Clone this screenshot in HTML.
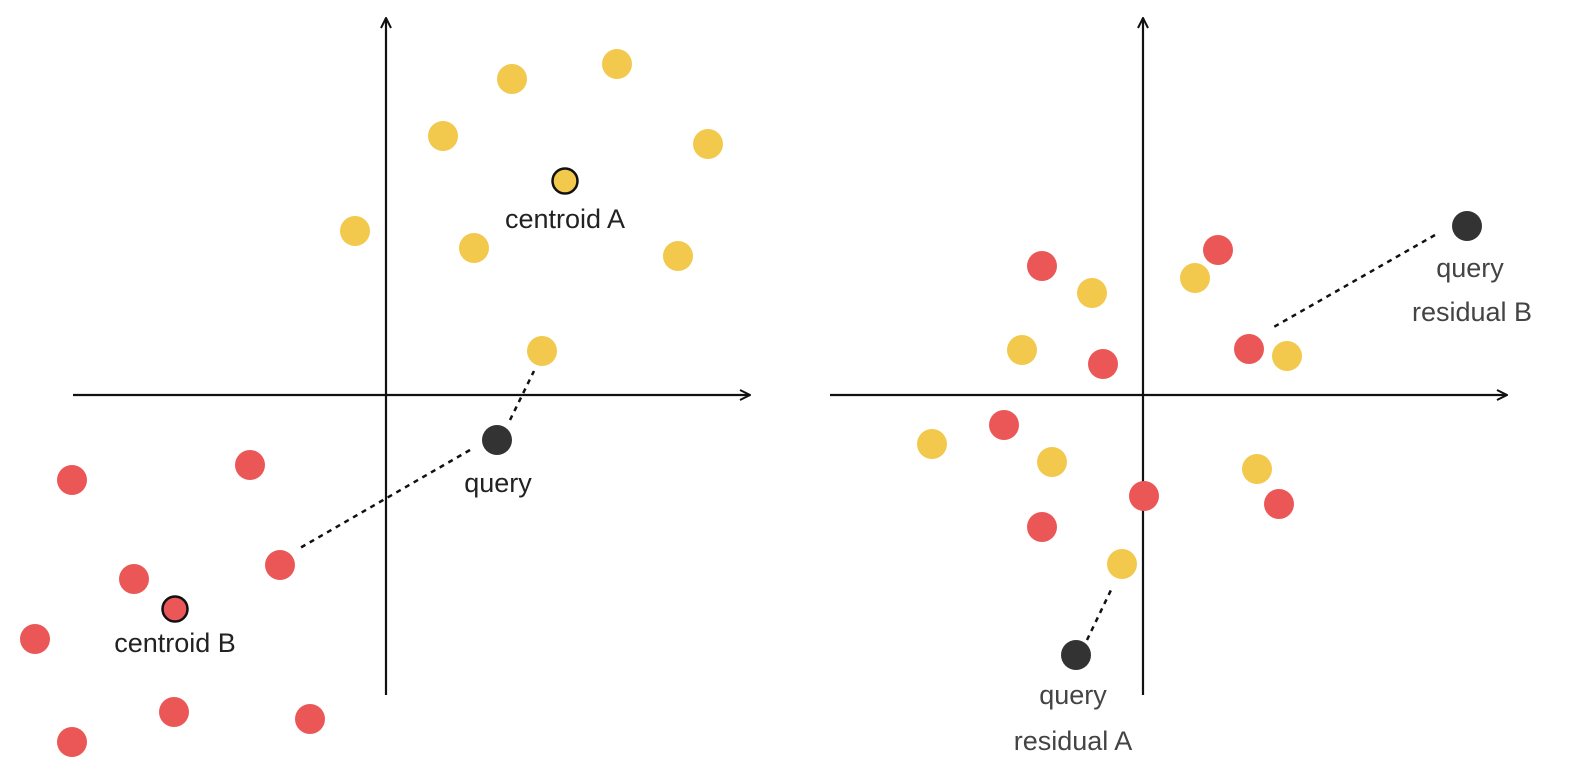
<!DOCTYPE html>
<html><head><meta charset="utf-8">
<style>
html,body{margin:0;padding:0;background:#fff;}
svg{display:block;}
text{font-family:"Liberation Sans","DejaVu Sans",sans-serif;font-size:27px;fill:#222;}
</style></head>
<body>
<svg id="chart" width="1582" height="784" viewBox="0 0 1582 784" xmlns="http://www.w3.org/2000/svg">
<defs>
<marker id="arr" viewBox="0 0 12 12" refX="11" refY="6" markerWidth="12" markerHeight="12" markerUnits="userSpaceOnUse" orient="auto">
<path d="M1,1 L11,6 L1,11" fill="none" stroke="#111" stroke-width="2"/>
</marker>
</defs>
</svg>
<script>
// Data coordinates: units relative to each panel's origin (x right, y up)
const leftYellowX = [126, 231, 57, 322, -31, 88, 292, 156];
const leftYellowY = [316, 331, 259, 251, 164, 147, 139, 44];
const leftRedX = [-314, -136, -106, -252, -351, -212, -76, -314];
const leftRedY = [-85, -70, -170, -184, -244, -317, -324, -347];
const centroidA = [179, 214];
const centroidB = [-211, -214];
const queryLeft = [111, -45];
const rightRedX = [-101, 75, -40, 106, -139, 1, 136, -101];
const rightRedY = [129, 145, 31, 46, -30, -101, -109, -132];
const rightYellowX = [-51, 52, -121, 144, -211, -91, 114, -21];
const rightYellowY = [102, 117, 45, 39, -49, -67, -74, -169];
const residualB = [324, 169];
const residualA = [-67, -260];

const NS = "http://www.w3.org/2000/svg";
const svg = document.getElementById('chart');
function lx(v){return 386 + v;}
function ly(v){return 395 - v;}
function rx(v){return 1143 + v;}
function ry(v){return 395 - v;}
function mk(tag, attrs){const e=document.createElementNS(NS,tag);for(const k in attrs)e.setAttribute(k,attrs[k]);svg.appendChild(e);return e;}

// axes
let a;
a = mk('line',{x1:73,y1:395,x2:750,y2:395,stroke:'#111','stroke-width':2.2,'marker-end':'url(#arr)'});


a = mk('line',{x1:386,y1:695,x2:386,y2:18,stroke:'#111','stroke-width':2.2,'marker-end':'url(#arr)'});


a = mk('line',{x1:830,y1:395,x2:1507,y2:395,stroke:'#111','stroke-width':2.2,'marker-end':'url(#arr)'});


a = mk('line',{x1:1143,y1:695,x2:1143,y2:18,stroke:'#111','stroke-width':2.2,'marker-end':'url(#arr)'});



// dashed connectors
function dash(x1,y1,x2,y2,name){
  const e=mk('line',{x1:x1,y1:y1,x2:x2,y2:y2,stroke:'#111','stroke-width':2.5,'stroke-dasharray':'5 5'});
  
  
}
dash(lx(queryLeft[0])+13,ly(queryLeft[1])-20,lx(leftYellowX[7])-8,ly(leftYellowY[7])+20,'query-to-point-a-line');
dash(lx(queryLeft[0])-27,ly(queryLeft[1])+10,lx(leftRedX[2])+20,ly(leftRedY[2])-17,'query-to-point-b-line');
dash(rx(residualB[0])-32,ry(residualB[1])+9,rx(rightRedX[3])+23,ry(rightRedY[3])-21,'residual-b-line');
dash(rx(residualA[0])+11,ry(residualA[1])-15,rx(rightYellowX[7])-11,ry(rightYellowY[7])+26,'residual-a-line');

function dot(cx,cy,fill,name,stroke){
  const e=mk('circle',{cx:cx,cy:cy,r:15,fill:fill});
  if(stroke){e.setAttribute('r',12.5);e.setAttribute('stroke','#111');e.setAttribute('stroke-width',2.5);}
  
  
}
const Y='#F2C94C', R='#EB5757', D='#333333';
leftYellowX.forEach((v,i)=>dot(lx(v),ly(leftYellowY[i]),Y,'cluster-a-point'));
leftRedX.forEach((v,i)=>dot(lx(v),ly(leftRedY[i]),R,'cluster-b-point'));
dot(lx(centroidA[0]),ly(centroidA[1]),Y,'centroid-a',true);
dot(lx(centroidB[0]),ly(centroidB[1]),R,'centroid-b',true);
dot(lx(queryLeft[0]),ly(queryLeft[1]),D,'query-point');
rightRedX.forEach((v,i)=>dot(rx(v),ry(rightRedY[i]),R,'residual-red-point'));
rightYellowX.forEach((v,i)=>dot(rx(v),ry(rightYellowY[i]),Y,'residual-yellow-point'));
dot(rx(residualB[0]),ry(residualB[1]),D,'query-residual-b-point');
dot(rx(residualA[0]),ry(residualA[1]),D,'query-residual-a-point');

function label(x,y,t,name,fill){
  const e=mk('text',{x:x,y:y,'text-anchor':'middle'});
  if(fill)e.setAttribute('style','fill:'+fill);
  e.textContent=t;
  
  
}
label(565,228,'centroid A','centroid-a-label');
label(498,492,'query','query-label');
label(175,652,'centroid B','centroid-b-label');
label(1470,277,'query','residual-b-label-line1','#444');
label(1472,321,'residual B','residual-b-label-line2','#444');
label(1073,704,'query','residual-a-label-line1','#444');
label(1073,750,'residual A','residual-a-label-line2','#444');
</script>
</body></html>
